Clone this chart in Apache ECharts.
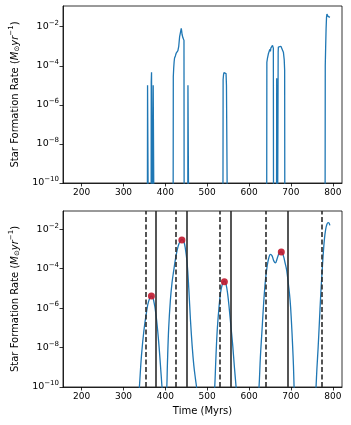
<!DOCTYPE html>
<html>
<head>
<meta charset="utf-8">
<script src="https://cdn.jsdelivr.net/npm/echarts@6/dist/echarts.min.js"></script>
<style>
  html, body { margin: 0; padding: 0; background: #fff; }
  #chart { width: 351px; height: 425px; }
</style>
</head>
<body>
<div id="chart"></div>
<script>
// raw star formation rate (top panel), 0 = no star formation
let topT = [186, 357, 357.5, 359, 359.5,
  366, 366.3, 367, 368, 368.5,
  370.5, 371, 372.5, 373,
  418.5, 419, 420, 421, 422, 424, 426, 428, 430, 431, 432, 434, 436, 438, 439, 440, 442, 443.5, 444.5, 445,
  453.5, 454, 455.5, 456,
  537.5, 538, 539, 540, 542, 544, 545, 546, 548, 548.5,
  642, 642.5, 644, 646, 648, 650, 651, 652, 654, 656, 657, 658, 658.5,
  665.5, 666, 667.5, 668,
  669, 669.5, 670, 672, 674, 676, 678, 680, 682, 684, 685, 685.5,
  781.5, 782, 783, 784, 785, 786, 787, 788, 789, 790, 791, 793]
let topSfr = [0, 0, 1e-5, 1e-5, 0,
  0, 1.5e-5, 4.7e-5, 4.5e-5, 0,
  0, 1e-5, 1e-5, 0,
  0, 2.8e-5, 8e-5, 1.6e-4, 2.5e-4, 3.2e-4, 4.5e-4, 5.5e-4, 6e-4, 5.5e-4, 1e-3, 3e-3, 5e-3, 8.3e-3, 6e-3, 4e-3, 2.7e-3, 2.3e-3, 2e-3, 0,
  0, 1e-5, 1e-5, 0,
  0, 2e-5, 3.5e-5, 4.5e-5, 5e-5, 4.8e-5, 4e-5, 1e-5, 1e-5, 0,
  0, 1.5e-4, 2.5e-4, 4e-4, 5.5e-4, 7e-4, 5.5e-4, 8e-4, 6.5e-4, 1.1e-3, 1.2e-3, 8e-4, 0,
  0, 2.3e-5, 2.3e-5, 0,
  0, 5e-4, 9e-4, 1.1e-3, 1.1e-3, 1e-3, 1.1e-3, 9e-4, 5e-4, 2e-4, 6e-5, 0,
  0, 1e-4, 1e-3, 8e-3, 3e-2, 4.5e-2, 4e-2, 3.5e-2, 4e-2, 3.2e-2, 3.5e-2, 3e-2]

// smoothed star formation rate (bottom panel), null = break between bursts
let smoothT = [336, 338, 343, 349, 355, 360, 366.7, 372, 378, 384, 390, 392, 394, null,
  402, 403.5, 405, 408, 412, 416, 420, 425, 430, 435, 440, 444, 448, 452, 456, 460, 464, 468, 472, 474.5, 476, null,
  516, 518, 521, 524, 528, 532, 536, 541, 545, 549, 553, 557, 561, 565, 569, 571, null,
  621, 623.8, 627, 631, 635, 639, 643, 647, 651, 655, 659, 663, 667, 672, 677, 682, 686, 690, 694, 698, 701, 704, 706, 707.5, 708.5, null,
  758.5, 760, 762, 765, 768, 771, 774, 777, 780, 783, 786, 789, 791, 793]
let smoothSfr = [2.5e-11, 1e-10, 4e-9, 8e-8, 6.3e-7, 2.2e-6, 4.1e-6, 2.5e-6, 4e-7, 2e-8, 4e-10, 1e-10, 4e-11, null,
  3.2e-11, 1e-10, 1.6e-9, 1e-7, 2.5e-6, 2e-5, 8e-5, 4e-4, 1.26e-3, 2.4e-3, 3e-3, 2.5e-3, 1e-3, 2e-4, 1e-5, 2.5e-7, 1.26e-8, 1.26e-9, 2.5e-10, 1e-10, 4e-11, null,
  2.5e-11, 1e-10, 4e-9, 8e-8, 1e-6, 6.3e-6, 1.6e-5, 2.4e-5, 1.6e-5, 5e-6, 8e-7, 1e-7, 1.26e-8, 1e-9, 1e-10, 3.2e-11, null,
  2.5e-11, 1e-10, 3.2e-9, 8e-8, 2e-6, 2.5e-5, 1.26e-4, 3.5e-4, 5.4e-4, 4.5e-4, 2.5e-4, 2e-4, 3.2e-4, 6.3e-4, 7.1e-4, 4.5e-4, 2e-4, 8e-5, 1.6e-5, 2.5e-6, 2.5e-7, 1.26e-8, 1.26e-9, 1e-10, 2.5e-11, null,
  2.5e-11, 1e-10, 8e-10, 1e-8, 2e-7, 4e-6, 5e-5, 5e-4, 3.2e-3, 1e-2, 1.8e-2, 2.2e-2, 2.1e-2, 1.6e-2]

// burst peaks
let peakT = [366.7, 439.5, 541, 677]
let peakSfr = [4.1e-6, 2.9e-3, 2.2e-5, 7.1e-4]

// burst start (dashed) and end (solid) times
let startT = [353, 424, 530, 638.8, 773.8]
let endT = [377, 450.5, 555.5, 691.9]

let xTicks = [200, 300, 400, 500, 600, 700, 800]
let yTicks = [1e-10, 1e-8, 1e-6, 1e-4, 1e-2]

const FLOOR = 1e-13
const font = 'DejaVu Sans'
const blue = '#1f77b4'

let chart = echarts.init(document.getElementById('chart'))

function logLabel(v) {
    let e = Math.round(Math.log10(v))
    return '10{s|' + (e < 0 ? '\u2212' : '') + Math.abs(e) + '}'
}

function xAxisFor(idx, withName) {
    return {
        type: 'value', gridIndex: idx, min: 155.5, max: 822,
        name: withName ? 'Time (Myrs)' : '',
        nameLocation: 'middle', nameGap: 19,
        nameTextStyle: { fontFamily: font, fontSize: 10, color: '#000' },
        axisLine: { show: true, lineStyle: { color: '#000', width: 0.8 } },
        axisTick: { show: true, length: 3.5, customValues: xTicks, lineStyle: { color: '#000', width: 0.8 } },
        axisLabel: { customValues: xTicks, margin: 5, fontFamily: font, fontSize: 9, color: '#000' },
        splitLine: { show: false }
    }
}

function yAxisFor(idx, maxV) {
    return {
        type: 'log', logBase: 10, gridIndex: idx, min: 1e-10, max: maxV,
        name: 'Star Formation Rate ({i|M}{sub|\u2299}{i|yr}{sup|\u22121})',
        nameLocation: 'middle', nameGap: 41, nameRotate: 90,
        nameTextStyle: {
            fontFamily: font, fontSize: 10, color: '#000',
            rich: {
                i: { fontFamily: font, fontSize: 10, fontStyle: 'italic', color: '#000' },
                sub: { fontFamily: font, fontSize: 7, color: '#000', padding: [5, 0, 0, 0] },
                sup: { fontFamily: font, fontSize: 7, color: '#000', padding: [0, 0, 7, 0] }
            }
        },
        axisLine: { show: true, lineStyle: { color: '#000', width: 0.8 } },
        axisTick: { show: true, length: 3.5, customValues: yTicks, lineStyle: { color: '#000', width: 0.8 } },
        axisLabel: {
            customValues: yTicks, margin: 4, formatter: logLabel,
            fontFamily: font, fontSize: 9.5, color: '#000',
            rich: { s: { fontFamily: font, fontSize: 7, color: '#000', padding: [0, 0, 7, 0] } }
        },
        splitLine: { show: false },
        minorTick: { show: false }
    }
}

let topData = topT.map((t, i) => [t, topSfr[i] > 0 ? topSfr[i] : FLOOR])
let smoothData = smoothT.map((t, i) => t == null ? ['-', '-'] : [t, smoothSfr[i]])

let option = {
    backgroundColor: '#fff',
    animation: false,
    grid: [
        { left: 62, top: 6, width: 280, height: 177, show: true, borderColor: '#000', borderWidth: 0.8, backgroundColor: 'transparent' },
        { left: 62, top: 211, width: 280, height: 176, show: true, borderColor: '#000', borderWidth: 0.8, backgroundColor: 'transparent' }
    ],
    xAxis: [xAxisFor(0, false), xAxisFor(1, true)],
    yAxis: [yAxisFor(0, 0.115), yAxisFor(1, 0.085)],
    series: [
        {
            type: 'line', xAxisIndex: 0, yAxisIndex: 0, data: topData,
            showSymbol: false, clip: true,
            lineStyle: { color: blue, width: 1.3 }
        },
        {
            type: 'line', xAxisIndex: 1, yAxisIndex: 1, data: smoothData,
            showSymbol: false, smooth: 0.4, connectNulls: false, clip: true,
            lineStyle: { color: blue, width: 1.3 }
        },
        {
            type: 'line', xAxisIndex: 1, yAxisIndex: 1, data: [],
            markLine: {
                silent: true, symbol: 'none', label: { show: false },
                lineStyle: { color: '#2b2b2b', width: 1.6, type: [5, 2.5] },
                data: startT.map(t => ({ xAxis: t }))
            }
        },
        {
            type: 'line', xAxisIndex: 1, yAxisIndex: 1, data: [],
            markLine: {
                silent: true, symbol: 'none', label: { show: false },
                lineStyle: { color: '#2b2b2b', width: 1.6, type: 'solid' },
                data: endT.map(t => ({ xAxis: t }))
            }
        },
        {
            type: 'scatter', xAxisIndex: 1, yAxisIndex: 1,
            data: peakT.map((t, i) => [t, peakSfr[i]]),
            symbolSize: 7, z: 5,
            itemStyle: { color: '#c0182e', opacity: 0.9 }
        }
    ]
}

chart.setOption(option)
</script>
</body>
</html>
